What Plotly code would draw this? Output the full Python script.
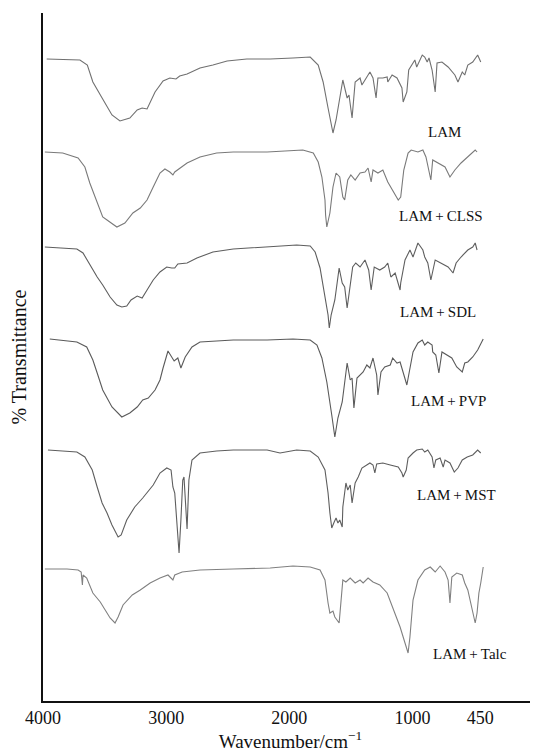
import plotly.graph_objects as go

# ---------------- data (wavenumber cm^-1, relative %T) ----------------
lam_wn = [3970, 3700, 3640, 3595, 3520, 3440, 3375, 3295, 3235, 3195, 3155, 3090, 3025, 2970, 2920, 2890,
          2830, 2725, 2620, 2505, 2345, 2155, 1970, 1830, 1765, 1725, 1685, 1645, 1620, 1565, 1530, 1515,
          1490, 1465, 1425, 1410, 1370, 1345, 1320, 1295, 1280, 1240, 1205, 1200, 1165, 1125, 1085, 1075,
          1045, 1030, 980, 965, 920, 900, 880, 865, 840, 815, 800, 760, 710, 655, 630, 595, 575, 550, 510,
          470, 445]
lam_t = [100, 99, 94, 77, 61, 44, 38, 41, 49, 51, 50, 67, 78, 81, 80, 83,
         85, 91, 94, 98, 100, 100, 101, 102, 94, 77, 51, 26, 39, 79, 61, 64,
         41, 77, 81, 74, 82, 87, 81, 61, 81, 81, 82, 77, 84, 81, 71, 57,
         67, 89, 99, 92, 104, 102, 97, 101, 89, 67, 96, 97, 92, 84, 77, 87, 84, 94, 97,
         104, 97]

clss_wn = [3985, 3840, 3715, 3660, 3620, 3560, 3515, 3480, 3400, 3335, 3270, 3210, 3155, 3105, 3050, 3010,
           2970, 2945, 2930, 2830, 2725, 2590, 2455, 2180, 1890, 1805, 1765, 1735, 1710, 1705, 1695, 1670,
           1645, 1620, 1590, 1565, 1550, 1525, 1500, 1465, 1425, 1385, 1360, 1335, 1320, 1280, 1240, 1200,
           1160, 1115, 1095, 1070, 1035, 1010, 955, 915, 890, 850, 835, 790, 735, 695, 655, 605, 550, 490, 475]
clss_t = [100, 99, 94, 85, 69, 49, 35, 32, 25, 29, 39, 44, 52, 65, 79, 83,
          80, 77, 80, 89, 95, 99, 100, 100, 102, 99, 90, 75, 52, 37, 25, 39,
          65, 79, 75, 55, 52, 72, 77, 72, 79, 80, 84, 70, 82, 79, 82, 70,
          62, 52, 55, 82, 99, 102, 100, 102, 95, 72, 92, 89, 85, 75, 82, 89, 95, 102, 100]

sdl_wn = [3985, 3725, 3675, 3620, 3560, 3515, 3455, 3400, 3360, 3320, 3285, 3235, 3195, 3155, 3105, 3050,
          2995, 2955, 2930, 2905, 2830, 2750, 2620, 2455, 2155, 1940, 1830, 1790, 1750, 1710, 1685, 1675,
          1660, 1630, 1595, 1570, 1550, 1530, 1505, 1485, 1460, 1425, 1385, 1355, 1335, 1310, 1265, 1225,
          1200, 1175, 1140, 1100, 1095, 1060, 1020, 995, 955, 915, 900, 875, 850, 815, 770, 710, 670, 645,
          605, 550, 510, 490, 475]
sdl_t = [100, 98, 94, 82, 70, 62, 50, 42, 40, 41, 47, 51, 49, 57, 67, 75,
         80, 79, 79, 83, 84, 89, 95, 98, 100, 102, 101, 95, 79, 52, 32, 19,
         32, 47, 79, 64, 60, 39, 60, 80, 84, 80, 87, 77, 57, 80, 77, 80,
         84, 70, 74, 57, 64, 87, 97, 90, 104, 97, 90, 84, 67, 87, 84, 80, 74, 84,
         90, 97, 100, 104, 97]

pvp_wn = [3945, 3725, 3645, 3595, 3560, 3515, 3440, 3360, 3295, 3235, 3190, 3145, 3090, 3050, 3025, 2985,
          2935, 2905, 2880, 2845, 2790, 2725, 2590, 2455, 2180, 1970, 1830, 1775, 1735, 1695, 1655, 1630,
          1605, 1570, 1530, 1505, 1490, 1475, 1450, 1425, 1400, 1370, 1345, 1320, 1290, 1280, 1255, 1225,
          1180, 1160, 1125, 1100, 1075, 1045, 1030, 995, 955, 920, 900, 875, 840, 835, 810, 785, 760, 720,
          680, 640, 595, 575, 550, 510, 470, 425]
pvp_t = [101, 98, 93, 80, 67, 50, 33, 23, 27, 33, 40, 42, 50, 60, 72, 89,
         79, 82, 72, 83, 93, 98, 99, 100, 100, 101, 100, 95, 82, 58, 25, 3,
         22, 38, 77, 60, 62, 32, 62, 65, 68, 75, 72, 82, 65, 45, 68, 73,
         75, 82, 77, 78, 68, 55, 65, 88, 97, 100, 95, 98, 95, 88, 85, 67, 88, 85,
         82, 73, 68, 77, 78, 83, 90, 101]

mst_wn = [3960, 3725, 3660, 3600, 3560, 3520, 3480, 3440, 3390, 3365, 3320, 3255, 3190, 3105, 3050, 2995,
          2960, 2945, 2930, 2915, 2895, 2880, 2865, 2855, 2840, 2830, 2815, 2790, 2725, 2590, 2455, 2180,
          2075, 1940, 1830, 1765, 1710, 1685, 1670, 1655, 1635, 1620, 1605, 1590, 1570, 1565, 1540, 1525,
          1505, 1490, 1465, 1440, 1410, 1375, 1345, 1320, 1305, 1290, 1240, 1180, 1140, 1115, 1085, 1075,
          1050, 1035, 995, 965, 920, 900, 875, 840, 825, 810, 775, 750, 735, 695, 660, 630, 595, 555, 510,
          470, 445]
mst_t = [100, 98, 93, 80, 63, 47, 37, 25, 13, 15, 30, 43, 52, 65, 77, 82,
         80, 63, 57, 30, -3, 30, 70, 73, 47, 21, 70, 90, 97, 99, 100, 100,
         97, 100, 99, 93, 80, 57, 37, 22, 28, 32, 27, 30, 23, 43, 67, 60,
         65, 47, 67, 73, 82, 85, 87, 85, 77, 86, 87, 85, 84, 83, 77, 73,
         80, 92, 97, 100, 101, 98, 100, 93, 82, 90, 92, 83, 90, 87, 78, 82, 90, 93, 95,
         100, 97]

talc_wn = [3985, 3805, 3715, 3690, 3680, 3675, 3645, 3595, 3535, 3495, 3455, 3415, 3390, 3350, 3275, 3210,
           3130, 3050, 2985, 2945, 2930, 2870, 2725, 2455, 2155, 1970, 1830, 1750, 1710, 1685, 1670, 1645,
           1630, 1595, 1580, 1565, 1540, 1505, 1465, 1425, 1400, 1360, 1320, 1265, 1205, 1160, 1100, 1060,
           1035, 1020, 995, 955, 900, 855, 815, 775, 735, 710, 695, 680, 640, 595, 575, 550, 510, 490, 475,
           460, 445, 425]
talc_t = [100, 100, 99, 97, 84, 94, 91, 76, 67, 59, 51, 46, 52, 64, 74, 79,
          86, 91, 94, 89, 94, 97, 99, 100, 101, 103, 102, 99, 89, 66, 56, 58,
          52, 46, 69, 89, 87, 91, 86, 89, 86, 91, 87, 84, 76, 62, 42, 26,
          16, 32, 69, 89, 99, 102, 97, 103, 97, 89, 66, 92, 96, 94, 86, 79, 59, 46, 56,
          76, 86, 102]

sample_names = ["LAM", "LAM\u2009+\u2009CLSS", "LAM\u2009+\u2009SDL", "LAM\u2009+\u2009PVP",
                "LAM\u2009+\u2009MST", "LAM\u2009+\u2009Talc"]
x_tick_vals = [4000, 3000, 2000, 1000, 450]
x_tick_text = ["4000", "3000", "2000", "1000", "450"]

# ---------------- figure ----------------
series = [(lam_wn, lam_t), (clss_wn, clss_t), (sdl_wn, sdl_t),
          (pvp_wn, pvp_t), (mst_wn, mst_t), (talc_wn, talc_t)]
offsets = [542, 449, 354, 261, 151, 32]          # vertical stacking offsets
label_pos = [(0.812, 0.827), (0.804, 0.705), (0.798, 0.565),
             (0.820, 0.436), (0.836, 0.299), (0.863, 0.068)]
colors = ["#707070", "#7a7a7a", "#5e5e5e", "#5a5a5a", "#5e5e5e", "#808080"]

FONT = "Liberation Serif, Times New Roman, serif"
fig = go.Figure()
for (wn, t), off, name, col in zip(series, offsets, sample_names, colors):
    fig.add_trace(go.Scatter(x=wn, y=[off + v for v in t], mode="lines", name=name,
                             line=dict(color=col, width=1.1), showlegend=False,
                             hoverinfo="skip"))

for name, (px, py) in zip(sample_names, label_pos):
    fig.add_annotation(x=px, y=py, xref="paper", yref="paper", text=name,
                       showarrow=False, font=dict(family=FONT, size=15, color="#111"),
                       xanchor="center", yanchor="middle")

# the page body has an 8px default margin, so the figure is sized/margined to compensate
fig.update_layout(
    width=530, height=746,
    margin=dict(l=35, r=0, t=5, b=53),
    paper_bgcolor="white", plot_bgcolor="white",
    font=dict(family=FONT, color="#111"),
)
fig.update_xaxes(range=[4000, -20], tickvals=x_tick_vals, ticktext=x_tick_text,
                 showline=True, linecolor="#111", linewidth=1.5, ticks="", automargin=False,
                 showgrid=False, zeroline=False, tickfont=dict(family=FONT, size=18, color="#111"),
                 title=dict(text="Wavenumber/cm<sup>−1</sup>", font=dict(family=FONT, size=19, color="#111"),
                            standoff=2))
fig.update_yaxes(range=[0, 688], showticklabels=False, ticks="", automargin=False,
                 showline=True, linecolor="#111", linewidth=1.5,
                 showgrid=False, zeroline=False,
                 title=dict(text="% Transmittance", font=dict(family=FONT, size=20, color="#111"),
                            standoff=9))

fig.write_html("out.html")
